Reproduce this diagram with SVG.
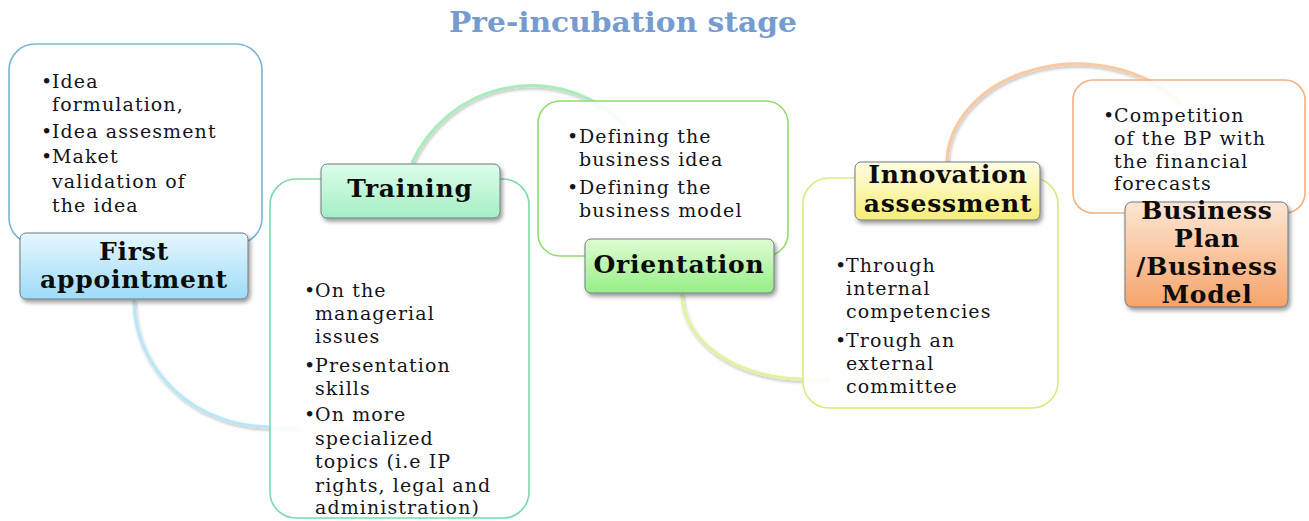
<svg xmlns="http://www.w3.org/2000/svg" width="1309" height="521" viewBox="0 0 1309 521">
<defs>
<linearGradient id="gBlue" x1="0" y1="0" x2="0" y2="1"><stop offset="0" stop-color="#e6f7fd"/><stop offset="1" stop-color="#9edbf8"/></linearGradient>
<linearGradient id="gMint" x1="0" y1="0" x2="0" y2="1"><stop offset="0" stop-color="#dcfdea"/><stop offset="1" stop-color="#a4efc4"/></linearGradient>
<linearGradient id="gGreen" x1="0" y1="0" x2="0" y2="1"><stop offset="0" stop-color="#e0fdd4"/><stop offset="1" stop-color="#96ee86"/></linearGradient>
<linearGradient id="gYellow" x1="0" y1="0" x2="0" y2="1"><stop offset="0" stop-color="#fffde2"/><stop offset="1" stop-color="#f6ee76"/></linearGradient>
<linearGradient id="gOrange" x1="0" y1="0" x2="0" y2="1"><stop offset="0" stop-color="#fde6d4"/><stop offset="1" stop-color="#f6a46a"/></linearGradient>
<filter id="shadow" x="-20%" y="-20%" width="140%" height="150%"><feDropShadow dx="2" dy="3" stdDeviation="2" flood-color="#000" flood-opacity="0.4"/></filter>
<filter id="arcShadow" x="-20%" y="-20%" width="140%" height="140%"><feDropShadow dx="1" dy="2" stdDeviation="1.5" flood-color="#000" flood-opacity="0.25"/></filter>
</defs>
<style>
.title{font-family:"DejaVu Serif",serif;font-weight:bold;font-size:27px;fill:#759ccf}
.body{font-family:"DejaVu Serif",serif;font-size:19px;letter-spacing:1.1px;fill:#14141c}
.lbl{font-family:"DejaVu Serif",serif;font-weight:bold;font-size:25px;letter-spacing:0.8px;fill:#0c0c0c;text-anchor:middle}
.box{fill:#fff;fill-opacity:0.88;stroke-width:1.6}
.tag{stroke:#6f7b82;stroke-width:1;filter:url(#shadow)}
.arc{fill:none;stroke-width:3.2;filter:url(#arcShadow)}
</style>
<rect width="1309" height="521" fill="#fff"/>
<text class="title" x="623" y="32" text-anchor="middle" textLength="348" lengthAdjust="spacingAndGlyphs">Pre-incubation stage</text>

<g id="connectors">
<path class="arc" stroke="#b8e8f8" d="M134,300 A136,127 0 0 0 270,427 L300,428"/>
<path class="arc" stroke="#a8ecbc" d="M412,163 A131,131 0 0 1 625,125"/>
<path class="arc" stroke="#def4a0" d="M682,294 A121,85 0 0 0 803,379 L830,379"/>
<path class="arc" stroke="#f8caa4" d="M947,162 A130,100 0 0 1 1180,103"/>
</g>

<g id="first-appointment">
<rect class="box" x="9" y="44" width="253" height="200" rx="26" stroke="#76b6d2"/>
<text class="body"><tspan x="41" y="88">•</tspan><tspan x="52" y="88">Idea</tspan><tspan x="52" y="111">formulation,</tspan><tspan x="41" y="138">•</tspan><tspan x="52" y="138">Idea assesment</tspan><tspan x="41" y="163">•</tspan><tspan x="52" y="163">Maket</tspan><tspan x="52" y="188">validation of</tspan><tspan x="52" y="212">the idea</tspan></text>
<rect class="tag" x="20" y="233" width="228" height="66" rx="6" fill="url(#gBlue)"/>
<text class="lbl"><tspan x="134" y="260">First</tspan><tspan x="134" y="288">appointment</tspan></text>
</g>

<g id="training">
<rect class="box" x="270" y="179" width="259" height="339" rx="26" stroke="#7cdaa8"/>
<text class="body"><tspan x="304" y="297">•</tspan><tspan x="315" y="297">On the</tspan><tspan x="315" y="320">managerial</tspan><tspan x="315" y="343">issues</tspan><tspan x="304" y="372">•</tspan><tspan x="315" y="372">Presentation</tspan><tspan x="315" y="395">skills</tspan><tspan x="304" y="421">•</tspan><tspan x="315" y="421">On more</tspan><tspan x="315" y="445">specialized</tspan><tspan x="315" y="468">topics (i.e IP</tspan><tspan x="315" y="492">rights, legal and</tspan><tspan x="315" y="514">administration)</tspan></text>
<rect class="tag" x="321" y="164" width="179" height="54" rx="6" fill="url(#gMint)"/>
<text class="lbl" x="410" y="197">Training</text>
</g>

<g id="orientation">
<rect class="box" x="538" y="101" width="250" height="155" rx="22" stroke="#8ede6c"/>
<text class="body"><tspan x="567" y="143">•</tspan><tspan x="579" y="143">Defining the</tspan><tspan x="579" y="166">business idea</tspan><tspan x="567" y="194">•</tspan><tspan x="579" y="194">Defining the</tspan><tspan x="579" y="217">business model</tspan></text>
<rect class="tag" x="585" y="239" width="189" height="54" rx="6" fill="url(#gGreen)"/>
<text class="lbl" x="679" y="273">Orientation</text>
</g>

<g id="innovation-assessment">
<rect class="box" x="803" y="178" width="255" height="230" rx="26" stroke="#d6ec7e"/>
<text class="body"><tspan x="835" y="272">•</tspan><tspan x="846" y="272">Through</tspan><tspan x="846" y="295">internal</tspan><tspan x="846" y="318">competencies</tspan><tspan x="835" y="347">•</tspan><tspan x="846" y="347">Trough an</tspan><tspan x="846" y="370">external</tspan><tspan x="846" y="393">committee</tspan></text>
<rect class="tag" x="855" y="162" width="185" height="58" rx="6" fill="url(#gYellow)"/>
<text class="lbl"><tspan x="948" y="183">Innovation</tspan><tspan x="948" y="212">assessment</tspan></text>
</g>

<g id="business-plan">
<rect class="box" x="1073" y="80" width="232" height="133" rx="20" stroke="#f4b080"/>
<text class="body"><tspan x="1103" y="122">•</tspan><tspan x="1114" y="122">Competition</tspan><tspan x="1114" y="145">of the BP with</tspan><tspan x="1114" y="168">the financial</tspan><tspan x="1114" y="190">forecasts</tspan></text>
<rect class="tag" x="1125" y="202" width="163" height="105" rx="7" fill="url(#gOrange)"/>
<text class="lbl"><tspan x="1207" y="219">Business</tspan><tspan x="1207" y="247">Plan</tspan><tspan x="1207" y="275">/Business</tspan><tspan x="1207" y="303">Model</tspan></text>
</g>
</svg>
